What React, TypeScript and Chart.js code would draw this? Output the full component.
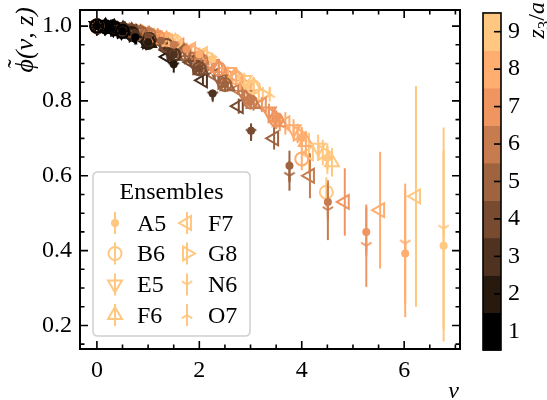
import React, { useEffect, useRef } from "react";
import { Chart, registerables } from "chart.js";

Chart.register(...registerables);

// ---------- axes / ticks ----------
const zLevels = [1, 2, 3, 4, 5, 6, 7, 8, 9];
const xMajorTicks = [0, 2, 4, 6];
const xMinorTicks = [0.5, 1, 1.5, 2.5, 3, 3.5, 4.5, 5, 5.5, 6.5, 7];
const yMajorTicks = [0.2, 0.4, 0.6, 0.8, 1.0];
const yMinorTicks = [0.15, 0.25, 0.3, 0.35, 0.45, 0.5, 0.55, 0.65, 0.7, 0.75, 0.85, 0.9, 0.95];
const cbTicks = [1, 2, 3, 4, 5, 6, 7, 8, 9];
const ensembleNames = ["A5", "B6", "E5", "F6", "F7", "G8", "N6", "O7"];

// ---------- data: rows = momenta, columns = z3/a = 1..9 ----------
const A5_nu = [
  [0, 0, 0, 0, 0, 0, 0, 0, 0],
  [0.25, 0.5, 0.75, 1.0, 1.25, 1.5, 1.75, 2.0, 2.25],
  [0.5, 1.0, 1.5, 2.0, 2.5, 3.0, 3.5, 4.0, 4.5],
  [0.75, 1.5, 2.26, 3.01, 3.76, 4.51, 5.26, 6.02, 6.77],
];
const A5_phi = [
  [1, 1, 1, 1, 1, 1, 1, 1, 1],
  [0.997, 0.989, 0.981, 0.972, 0.961, 0.95, 0.938, 0.925, 0.912],
  [0.986, 0.957, 0.924, 0.887, 0.845, 0.8, 0.753, 0.701, 0.648],
  [0.97, 0.898, 0.82, 0.72, 0.627, 0.53, 0.45, 0.392, 0.413],
];
const A5_err = [
  [0, 0, 0, 0, 0, 0, 0, 0, 0],
  [0.001, 0.002, 0.003, 0.004, 0.005, 0.006, 0.008, 0.01, 0.012],
  [0.002, 0.003, 0.005, 0.007, 0.01, 0.013, 0.017, 0.022, 0.03],
  [0.003, 0.006, 0.01, 0.02, 0.04, 0.05, 0.065, 0.17, 0.256],
];

const B6_nu = [
  [0, 0, 0, 0, 0, 0, 0, 0, 0],
  [0.17, 0.34, 0.51, 0.68, 0.85, 1.02, 1.19, 1.36, 1.53],
  [0.34, 0.68, 1.02, 1.36, 1.7, 2.04, 2.38, 2.72, 3.06],
  [0.5, 1.0, 1.5, 2.0, 2.5, 3.0, 3.5, 4.0, 4.48],
];
const B6_phi = [
  [1, 1, 1, 1, 1, 1, 1, 1, 1],
  [0.998, 0.995, 0.991, 0.987, 0.982, 0.977, 0.971, 0.965, 0.959],
  [0.994, 0.98, 0.965, 0.948, 0.928, 0.908, 0.886, 0.862, 0.837],
  [0.986, 0.956, 0.923, 0.886, 0.844, 0.797, 0.75, 0.645, 0.556],
];
const B6_err = [
  [0, 0, 0, 0, 0, 0, 0, 0, 0],
  [0.001, 0.001, 0.002, 0.003, 0.004, 0.005, 0.006, 0.007, 0.009],
  [0.001, 0.002, 0.004, 0.006, 0.008, 0.011, 0.014, 0.018, 0.023],
  [0.002, 0.004, 0.006, 0.009, 0.013, 0.018, 0.025, 0.03, 0.04],
];

const E5_nu = [
  [0, 0, 0, 0, 0, 0, 0, 0, 0],
  [0.16, 0.32, 0.48, 0.64, 0.8, 0.96, 1.12, 1.28, 1.44],
  [0.32, 0.64, 0.96, 1.28, 1.6, 1.92, 2.24, 2.56, 2.88],
  [0.48, 0.96, 1.44, 1.92, 2.4, 2.88, 3.36, 3.84, 4.32],
];
const E5_phi = [
  [1, 1, 1, 1, 1, 1, 1, 1, 1],
  [0.999, 0.996, 0.992, 0.988, 0.984, 0.98, 0.975, 0.969, 0.964],
  [0.994, 0.982, 0.969, 0.954, 0.937, 0.918, 0.899, 0.877, 0.856],
  [0.987, 0.96, 0.93, 0.896, 0.857, 0.816, 0.772, 0.724, 0.675],
];
const E5_err = [
  [0, 0, 0, 0, 0, 0, 0, 0, 0],
  [0.001, 0.001, 0.002, 0.003, 0.004, 0.004, 0.005, 0.006, 0.008],
  [0.001, 0.002, 0.004, 0.005, 0.007, 0.009, 0.012, 0.015, 0.019],
  [0.002, 0.004, 0.006, 0.009, 0.012, 0.016, 0.021, 0.027, 0.035],
];

const F6_nu = [
  [0.17, 0.34, 0.51, 0.68, 0.85, 1.02, 1.19, 1.36, 1.53],
  [0.34, 0.68, 1.02, 1.36, 1.7, 2.04, 2.38, 2.72, 3.06],
  [0.51, 1.02, 1.53, 2.04, 2.55, 3.06, 3.57, 4.08, 4.59],
];
const F6_phi = [
  [0.998, 0.995, 0.991, 0.986, 0.981, 0.976, 0.97, 0.964, 0.958],
  [0.994, 0.981, 0.966, 0.95, 0.93, 0.91, 0.888, 0.865, 0.84],
  [0.986, 0.955, 0.921, 0.882, 0.839, 0.792, 0.743, 0.69, 0.636],
];
const F6_err = [
  [0.001, 0.001, 0.002, 0.003, 0.004, 0.005, 0.006, 0.007, 0.009],
  [0.001, 0.002, 0.004, 0.006, 0.008, 0.011, 0.014, 0.018, 0.023],
  [0.002, 0.004, 0.006, 0.009, 0.013, 0.018, 0.024, 0.03, 0.038],
];

const F7_nu = [
  [0.23, 0.46, 0.69, 0.92, 1.15, 1.38, 1.61, 1.84, 2.07],
  [0.46, 0.92, 1.38, 1.84, 2.3, 2.76, 3.22, 3.68, 4.14],
  [0.69, 1.38, 2.07, 2.77, 3.46, 4.16, 4.84, 5.53, 6.23],
];
const F7_phi = [
  [0.997, 0.991, 0.984, 0.976, 0.967, 0.958, 0.948, 0.937, 0.925],
  [0.988, 0.964, 0.936, 0.904, 0.869, 0.831, 0.79, 0.74, 0.66],
  [0.973, 0.918, 0.855, 0.786, 0.7, 0.6, 0.53, 0.508, 0.545],
];
const F7_err = [
  [0.001, 0.002, 0.003, 0.004, 0.005, 0.006, 0.008, 0.01, 0.012],
  [0.002, 0.003, 0.005, 0.008, 0.011, 0.015, 0.02, 0.03, 0.055],
  [0.003, 0.008, 0.012, 0.02, 0.03, 0.06, 0.09, 0.156, 0.295],
];

const G8_nu = [
  [0.12, 0.24, 0.36, 0.48, 0.6, 0.72, 0.84, 0.96, 1.08],
  [0.24, 0.48, 0.72, 0.96, 1.2, 1.44, 1.68, 1.92, 2.16],
  [0.36, 0.72, 1.08, 1.44, 1.8, 2.16, 2.52, 2.88, 3.24],
  [0.49, 0.98, 1.47, 1.96, 2.45, 2.94, 3.43, 3.92, 4.41],
];
const G8_phi = [
  [0.999, 0.998, 0.996, 0.993, 0.991, 0.988, 0.986, 0.983, 0.98],
  [0.997, 0.99, 0.983, 0.974, 0.964, 0.954, 0.943, 0.931, 0.919],
  [0.993, 0.978, 0.961, 0.941, 0.92, 0.896, 0.872, 0.845, 0.817],
  [0.987, 0.959, 0.927, 0.891, 0.851, 0.808, 0.762, 0.713, 0.662],
];
const G8_err = [
  [0.001, 0.001, 0.001, 0.002, 0.002, 0.003, 0.003, 0.004, 0.005],
  [0.001, 0.002, 0.003, 0.004, 0.005, 0.006, 0.008, 0.01, 0.012],
  [0.001, 0.003, 0.004, 0.006, 0.008, 0.01, 0.013, 0.016, 0.02],
  [0.002, 0.004, 0.006, 0.009, 0.012, 0.016, 0.02, 0.026, 0.034],
];

const N6_nu = [
  [0.25, 0.5, 0.75, 1.0, 1.25, 1.5, 1.75, 2.0, 2.25],
  [0.5, 1.0, 1.5, 2.0, 2.5, 3.0, 3.5, 4.0, 4.5],
  [0.75, 1.5, 2.26, 3.01, 3.76, 4.51, 5.26, 6.02, 6.77],
];
const N6_phi = [
  [0.997, 0.99, 0.98, 0.971, 0.96, 0.951, 0.936, 0.927, 0.91],
  [0.985, 0.955, 0.921, 0.884, 0.842, 0.796, 0.748, 0.705, 0.64],
  [0.968, 0.893, 0.815, 0.715, 0.6, 0.508, 0.413, 0.419, 0.459],
];
const N6_err = [
  [0.001, 0.002, 0.003, 0.004, 0.005, 0.007, 0.009, 0.011, 0.014],
  [0.002, 0.004, 0.006, 0.008, 0.011, 0.015, 0.02, 0.026, 0.035],
  [0.003, 0.007, 0.012, 0.022, 0.04, 0.08, 0.11, 0.16, 0.27],
];

const O7_nu = [
  [0.125, 0.25, 0.375, 0.5, 0.625, 0.75, 0.875, 1.0, 1.125],
  [0.25, 0.5, 0.75, 1.0, 1.25, 1.5, 1.75, 2.0, 2.25],
  [0.375, 0.75, 1.125, 1.5, 1.875, 2.25, 2.625, 3.0, 3.375],
  [0.5, 1.0, 1.5, 2.0, 2.5, 3.0, 3.5, 4.0, 4.5],
];
const O7_phi = [
  [0.999, 0.997, 0.995, 0.993, 0.99, 0.988, 0.985, 0.981, 0.978],
  [0.997, 0.989, 0.981, 0.972, 0.961, 0.95, 0.938, 0.925, 0.912],
  [0.992, 0.976, 0.957, 0.936, 0.913, 0.888, 0.861, 0.832, 0.818],
  [0.985, 0.956, 0.922, 0.885, 0.842, 0.797, 0.75, 0.7, 0.652],
];
const O7_err = [
  [0.001, 0.001, 0.001, 0.002, 0.002, 0.003, 0.003, 0.004, 0.005],
  [0.001, 0.002, 0.003, 0.004, 0.005, 0.006, 0.008, 0.01, 0.012],
  [0.001, 0.003, 0.004, 0.006, 0.008, 0.01, 0.013, 0.016, 0.02],
  [0.002, 0.004, 0.006, 0.009, 0.012, 0.016, 0.021, 0.027, 0.035],
];

const seriesTable: Record<string, number[][][]> = {
  A5: [A5_nu, A5_phi, A5_err],
  B6: [B6_nu, B6_phi, B6_err],
  E5: [E5_nu, E5_phi, E5_err],
  F6: [F6_nu, F6_phi, F6_err],
  F7: [F7_nu, F7_phi, F7_err],
  G8: [G8_nu, G8_phi, G8_err],
  N6: [N6_nu, N6_phi, N6_err],
  O7: [O7_nu, O7_phi, O7_err],
};

// ---------- styles ----------
const zColors = ["#000000", "#28190f", "#503220", "#784b30", "#9f643f", "#c77c4f", "#ef955f", "#ffae6f", "#ffc77f"];
const legendColor = "#ffc77f";
const FONT = "'Liberation Serif', 'DejaVu Serif', serif";

type MStyle = { shape: string; r: number; rot: number; down?: boolean };
const markerStyles: Record<string, MStyle> = {
  A5: { shape: "dot", r: 4, rot: 0 },
  B6: { shape: "circle", r: 6.5, rot: 0 },
  E5: { shape: "triangle", r: 8, rot: 180 },
  F6: { shape: "triangle", r: 8, rot: 0 },
  F7: { shape: "triangle", r: 8, rot: 270 },
  G8: { shape: "triangle", r: 8, rot: 90 },
  N6: { shape: "tri", r: 6.5, rot: 0, down: true },
  O7: { shape: "tri", r: 6.5, rot: 0, down: false },
};

type Pt = { x: number; y: number; z: number; e: number };

function buildPoints(nu: number[][], phi: number[][], err: number[][]): Pt[] {
  const pts: Pt[] = [];
  nu.forEach((row, r) => {
    for (let i = row.length - 1; i >= 0; i--) {
      pts.push({ x: row[i], y: phi[r][i], z: zLevels[i], e: err[r][i] });
    }
  });
  return pts;
}

function makeTri(color: string, down: boolean, r: number): HTMLCanvasElement {
  const c = document.createElement("canvas");
  c.width = 20;
  c.height = 20;
  const g = c.getContext("2d")!;
  g.strokeStyle = color;
  g.lineWidth = 2;
  const s = down ? 1 : -1;
  g.beginPath();
  g.moveTo(10, 10);
  g.lineTo(10, 10 + s * r);
  g.moveTo(10, 10);
  g.lineTo(10 + 0.8 * r, 10 - s * 0.5 * r);
  g.moveTo(10, 10);
  g.lineTo(10 - 0.8 * r, 10 - s * 0.5 * r);
  g.stroke();
  return c;
}

function drawMarker(ctx: CanvasRenderingContext2D, st: MStyle, x: number, y: number, color: string, tri: HTMLCanvasElement | null) {
  ctx.save();
  ctx.strokeStyle = color;
  ctx.fillStyle = color;
  ctx.lineWidth = 2;
  if (st.shape === "dot") {
    ctx.beginPath();
    ctx.arc(x, y, st.r, 0, Math.PI * 2);
    ctx.fill();
  } else if (st.shape === "circle") {
    ctx.beginPath();
    ctx.arc(x, y, st.r, 0, Math.PI * 2);
    ctx.stroke();
  } else if (st.shape === "triangle") {
    let rad = (st.rot * Math.PI) / 180;
    ctx.beginPath();
    for (let k = 0; k < 3; k++) {
      const px = x + Math.sin(rad) * st.r;
      const py = y - Math.cos(rad) * st.r;
      if (k === 0) ctx.moveTo(px, py);
      else ctx.lineTo(px, py);
      rad += (2 * Math.PI) / 3;
    }
    ctx.closePath();
    ctx.stroke();
  } else if (tri) {
    ctx.drawImage(tri, x - tri.width / 2, y - tri.height / 2);
  }
  ctx.restore();
}

export default function App() {
  const canvasRef = useRef<HTMLCanvasElement | null>(null);

  useEffect(() => {
    document.body.style.margin = "0";
    const canvas = canvasRef.current;
    if (!canvas) return;

    const triCache: Record<string, HTMLCanvasElement[]> = {};
    ensembleNames.forEach((n) => {
      const st = markerStyles[n];
      if (st.shape === "tri") triCache[n] = zColors.map((c) => makeTri(c, !!st.down, st.r));
    });
    const legendTri: Record<string, HTMLCanvasElement> = {
      N6: makeTri(legendColor, true, markerStyles.N6.r),
      O7: makeTri(legendColor, false, markerStyles.O7.r),
    };

    const colorOf = (ctx: any) => (ctx.raw ? zColors[ctx.raw.z - 1] : zColors[8]);

    const datasets = ensembleNames.map((n) => {
      const st = markerStyles[n];
      const [nu, phi, err] = seriesTable[n];
      return {
        label: n,
        data: buildPoints(nu, phi, err),
        showLine: false,
        pointStyle:
          st.shape === "tri"
            ? (ctx: any) => triCache[n][ctx.raw ? ctx.raw.z - 1 : 8]
            : st.shape === "triangle"
            ? "triangle"
            : "circle",
        pointRadius: st.r,
        pointHoverRadius: st.r,
        pointRotation: st.rot,
        pointBorderColor: colorOf,
        pointBackgroundColor: st.shape === "dot" ? colorOf : "rgba(0,0,0,0)",
        pointBorderWidth: st.shape === "dot" ? 0 : 2,
        pointHoverBorderWidth: st.shape === "dot" ? 0 : 2,
      };
    });

    const errorBars = {
      id: "errorBars",
      beforeDatasetDraw(chart: any, args: any) {
        const ds = chart.data.datasets[args.index];
        const ys = chart.scales.y;
        const ctx = chart.ctx;
        const a = chart.chartArea;
        ctx.save();
        ctx.beginPath();
        ctx.rect(a.left, a.top, a.right - a.left, a.bottom - a.top);
        ctx.clip();
        ctx.lineWidth = 2;
        args.meta.data.forEach((el: any, i: number) => {
          const p = ds.data[i] as Pt;
          if (!p.e) return;
          ctx.strokeStyle = zColors[p.z - 1];
          ctx.beginPath();
          ctx.moveTo(el.x, ys.getPixelForValue(p.y + p.e));
          ctx.lineTo(el.x, ys.getPixelForValue(p.y - p.e));
          ctx.stroke();
        });
        ctx.restore();
      },
    };

    const frame = {
      id: "frame",
      afterDatasetsDraw(chart: any) {
        const ctx = chart.ctx;
        const { left, right, top, bottom } = chart.chartArea;
        const xs = chart.scales.x;
        const ys = chart.scales.y;
        const cb = chart.scales.cb;
        ctx.save();
        ctx.strokeStyle = "#000";
        ctx.lineWidth = 1.6;
        const xt = (vals: number[], len: number) => {
          vals.forEach((v) => {
            const px = xs.getPixelForValue(v);
            ctx.beginPath();
            ctx.moveTo(px, bottom);
            ctx.lineTo(px, bottom - len);
            ctx.moveTo(px, top);
            ctx.lineTo(px, top + len);
            ctx.stroke();
          });
        };
        const yt = (vals: number[], len: number) => {
          vals.forEach((v) => {
            const py = ys.getPixelForValue(v);
            ctx.beginPath();
            ctx.moveTo(left, py);
            ctx.lineTo(left + len, py);
            ctx.moveTo(right, py);
            ctx.lineTo(right - len, py);
            ctx.stroke();
          });
        };
        xt(xMajorTicks, 8);
        xt(xMinorTicks, 4.5);
        yt(yMajorTicks, 8);
        yt(yMinorTicks, 4.5);
        ctx.lineWidth = 2;
        ctx.strokeRect(left, top, right - left, bottom - top);

        // colorbar
        const x0 = 483;
        const x1 = 501;
        zLevels.forEach((v, i) => {
          const yTop = cb.getPixelForValue(v + 0.5);
          const yBot = cb.getPixelForValue(v - 0.5);
          ctx.fillStyle = zColors[i];
          ctx.fillRect(x0, yTop, x1 - x0, yBot - yTop + 0.6);
        });
        ctx.lineWidth = 1.6;
        cbTicks.forEach((v) => {
          const py = cb.getPixelForValue(v);
          ctx.beginPath();
          ctx.moveTo(x1, py);
          ctx.lineTo(x1 - 7, py);
          ctx.stroke();
        });
        const cTop = cb.getPixelForValue(9.5);
        const cBot = cb.getPixelForValue(0.5);
        ctx.strokeRect(x0, cTop, x1 - x0, cBot - cTop);
        ctx.restore();
      },
    };

    const overlay = {
      id: "overlay",
      afterDraw(chart: any) {
        const ctx = chart.ctx as CanvasRenderingContext2D;
        ctx.save();
        ctx.fillStyle = "#000";
        // y label
        ctx.save();
        ctx.translate(33, 7);
        ctx.rotate(-Math.PI / 2);
        ctx.font = `italic 26px ${FONT}`;
        ctx.textBaseline = "alphabetic";
        const phi = "\u03D5";
        const rest = "(\u03BD, z)";
        const wPhi = ctx.measureText(phi).width;
        const wRest = ctx.measureText(rest).width;
        const start = -(wPhi + wRest);
        ctx.textAlign = "left";
        ctx.fillText(phi, start, 0);
        ctx.fillText(rest, start + wPhi, 0);
        ctx.font = `26px ${FONT}`;
        ctx.textAlign = "center";
        ctx.fillText("\u02DC", start + wPhi / 2 + 2, -8);
        ctx.restore();

        // x label
        ctx.font = `italic 24px ${FONT}`;
        ctx.textAlign = "right";
        ctx.textBaseline = "alphabetic";
        ctx.fillText("\u03BD", 459, 398);

        // colorbar label
        ctx.save();
        ctx.translate(544, 2);
        ctx.rotate(-Math.PI / 2);
        ctx.textAlign = "left";
        ctx.textBaseline = "alphabetic";
        const parts: [string, string, number][] = [
          ["z", `italic 24px ${FONT}`, 0],
          ["3", `17px ${FONT}`, 5],
          ["/", `24px ${FONT}`, 0],
          ["a", `italic 24px ${FONT}`, 0],
        ];
        let W = 0;
        parts.forEach(([t, f]) => {
          ctx.font = f;
          W += ctx.measureText(t).width;
        });
        let cx = -W;
        parts.forEach(([t, f, dy]) => {
          ctx.font = f;
          ctx.fillText(t, cx, dy);
          cx += ctx.measureText(t).width;
        });
        ctx.restore();

        // legend
        const bx = 93, by = 172, bw = 157, bh = 164, rr = 5;
        ctx.beginPath();
        ctx.moveTo(bx + rr, by);
        ctx.lineTo(bx + bw - rr, by);
        ctx.quadraticCurveTo(bx + bw, by, bx + bw, by + rr);
        ctx.lineTo(bx + bw, by + bh - rr);
        ctx.quadraticCurveTo(bx + bw, by + bh, bx + bw - rr, by + bh);
        ctx.lineTo(bx + rr, by + bh);
        ctx.quadraticCurveTo(bx, by + bh, bx, by + bh - rr);
        ctx.lineTo(bx, by + rr);
        ctx.quadraticCurveTo(bx, by, bx + rr, by);
        ctx.closePath();
        ctx.fillStyle = "rgba(255,255,255,0.85)";
        ctx.fill();
        ctx.strokeStyle = "#d0d0d0";
        ctx.lineWidth = 1.5;
        ctx.stroke();

        ctx.fillStyle = "#000";
        ctx.font = `24px ${FONT}`;
        ctx.textAlign = "center";
        ctx.fillText("Ensembles", 171.5, 199);
        const colMarker = [115, 187];
        const colText = [137, 208];
        const rowY = [223, 253.5, 284.5, 315];
        ensembleNames.forEach((n, i) => {
          const col = i < 4 ? 0 : 1;
          const row = i % 4;
          const mx = colMarker[col];
          const my = rowY[row];
          ctx.strokeStyle = legendColor;
          ctx.lineWidth = 2;
          ctx.beginPath();
          ctx.moveTo(mx, my - 11);
          ctx.lineTo(mx, my + 11);
          ctx.stroke();
          drawMarker(ctx, markerStyles[n], mx, my, legendColor, legendTri[n] || null);
          ctx.fillStyle = "#000";
          ctx.font = `24px ${FONT}`;
          ctx.textAlign = "left";
          ctx.textBaseline = "alphabetic";
          ctx.fillText(n, colText[col], my + 7.5);
        });
        ctx.restore();
      },
    };

    const tickFont = { family: FONT, size: 24 };

    const chart = new Chart(canvas, {
      type: "scatter",
      data: { datasets: datasets as any },
      options: {
        animation: false,
        responsive: false,
        layout: { padding: { top: 7, left: 0, right: 0, bottom: 0 } },
        plugins: { legend: { display: false }, tooltip: { enabled: false } },
        scales: {
          x: {
            type: "linear",
            min: -0.33,
            max: 7.09,
            grid: { display: false, drawTicks: false },
            border: { display: false },
            ticks: {
              font: tickFont,
              color: "#000",
              padding: 7,
              maxRotation: 0,
              autoSkip: false,
              callback: (v: any) => String(v),
            },
            afterBuildTicks: (s: any) => {
              s.ticks = xMajorTicks.map((v) => ({ value: v }));
            },
            afterFit: (s: any) => {
              s.height = 51;
              s.paddingLeft = 0;
              s.paddingRight = 0;
            },
          },
          y: {
            type: "linear",
            min: 0.137,
            max: 1.043,
            grid: { display: false, drawTicks: false },
            border: { display: false },
            ticks: {
              font: tickFont,
              color: "#000",
              padding: 8,
              autoSkip: false,
              callback: (v: any) => Number(v).toFixed(1),
            },
            afterBuildTicks: (s: any) => {
              s.ticks = yMajorTicks.map((v) => ({ value: v }));
            },
            afterFit: (s: any) => {
              s.width = 80;
              s.paddingTop = 0;
              s.paddingBottom = 0;
            },
          },
          cb: {
            type: "linear",
            position: "right",
            min: 0.5265,
            max: 9.579,
            grid: { display: false, drawTicks: false },
            border: { display: false },
            ticks: {
              font: tickFont,
              color: "#000",
              padding: 48,
              autoSkip: false,
              callback: (v: any) => String(v),
            },
            afterBuildTicks: (s: any) => {
              s.ticks = cbTicks.map((v) => ({ value: v }));
            },
            afterFit: (s: any) => {
              s.width = 87;
              s.paddingTop = 0;
              s.paddingBottom = 0;
            },
          },
        },
      },
      plugins: [errorBars, frame, overlay],
    });

    return () => {
      chart.destroy();
    };
  }, []);

  return (
    <div style={{ width: 547, height: 400 }}>
      <canvas ref={canvasRef} width={547} height={400} style={{ width: 547, height: 400, display: "block" }} />
    </div>
  );
}
